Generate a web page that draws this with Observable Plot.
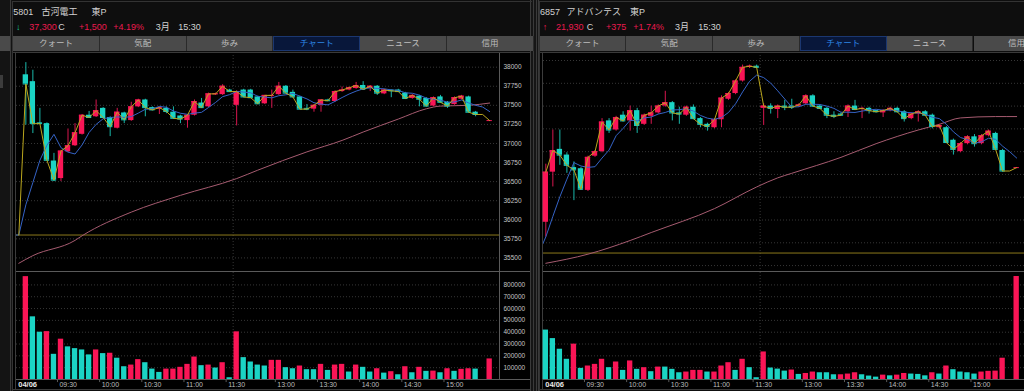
<!DOCTYPE html>
<html><head><meta charset="utf-8">
<script src="https://cdn.jsdelivr.net/npm/d3@7"></script>
<script src="https://cdn.jsdelivr.net/npm/@observablehq/plot@0.6"></script>
<style>
html,body{margin:0;padding:0;background:#0e0e0e;width:1024px;height:391px;overflow:hidden;position:relative;
  font-family:"Liberation Sans","Noto Sans CJK JP",sans-serif;}
.panel{position:absolute;top:0;width:517px;height:391px;}
.abs{position:absolute;}
.t{position:absolute;font-size:9px;line-height:10px;white-space:nowrap;color:#d2d2d2;}
.red{color:#ec1a4e;}
.tab{position:absolute;top:36px;height:15px;line-height:15px;font-size:8.5px;text-align:center;color:#bdbdbd;
  background:#4a4a4a;box-sizing:border-box;border-right:1px solid #2a2a2a;}
.tab.sel{background:#08173a;color:#2d86e4;border:1px solid #1b3770;line-height:13px;}
</style></head><body>
<script>
// ---------- shared categories ----------
const barIndex = d3.range(-1, 67);           // 5-minute bar slots (-1 = pre-open slot)
const xTickPos   = [-1.3, 4.5, 10.5, 16.5, 22.5, 28.5, 35.5, 41.5, 47.5, 53.5, 59.5];
const xTickLabel = ["04/06","09:30","10:00","10:30","11:00","11:30","13:00","13:30","14:00","14:30","15:00"];
const sessionBreak = [29.5];
const tabLabels = ["クォート","気配","歩み","チャート","ニュース","信用"];

// ---------- 5801 古河電工 ----------
const furuOpen  = [null,37900,37810,37270,37260,36770,36540,36890,36970,37120,37370,37350,37460,37340,37200,37400,37300,37480,37570,37470,37450,37460,37410,37360,37300,37370,37530,37480,37640,37640,37700,37500,37700,37700,37610,37520,37630,37640,37750,37670,37610,37460,37450,37500,37570,37550,37680,37700,37720,37760,37720,37750,37650,37700,37700,37660,37590,37620,37590,37490,37610,37540,37510,37580,37610,37410,null,37300];
const furuHigh  = [null,38060,37960,37460,37270,36870,36910,37190,37260,37380,37420,37570,37470,37350,37460,37410,37540,37580,37580,37480,37480,37480,37480,37370,37380,37570,37590,37660,37660,37770,37710,37690,37710,37710,37620,37630,37700,37800,37760,37700,37620,37510,37510,37570,37580,37690,37740,37740,37800,37810,37760,37760,37710,37700,37710,37670,37640,37630,37600,37610,37630,37550,37610,37630,37620,37420,null,37300];
const furuLow   = [null,37240,37130,37250,36770,36500,36500,36880,36960,37110,37330,37340,37330,37090,37190,37260,37290,37470,37350,37430,37380,37390,37320,37260,37200,37360,37460,37470,37630,37630,37670,37230,37600,37590,37510,37510,37460,37630,37660,37600,37450,37430,37410,37410,37550,37540,37670,37690,37710,37700,37680,37630,37640,37600,37670,37580,37580,37480,37480,37480,37530,37460,37500,37570,37400,37350,null,37300];
const furuClose = [35800,37780,37260,37260,36780,36520,36900,36970,37140,37370,37340,37430,37340,37220,37410,37310,37480,37570,37470,37440,37470,37420,37330,37320,37370,37550,37470,37650,37650,37750,37680,37680,37610,37600,37520,37630,37630,37750,37660,37610,37450,37450,37500,37570,37560,37680,37700,37730,37760,37710,37750,37660,37700,37690,37680,37590,37630,37580,37490,37600,37540,37490,37600,37620,37410,37380,37380,37300];
const furuVolume = [null,870000,530000,400000,405000,213000,341000,276000,261000,250000,208000,250000,219000,222000,180000,108000,122000,168000,142000,88000,60000,88000,88000,103000,128000,190000,117000,122000,97000,142000,15000,403000,185000,148000,122000,114000,162000,162000,100000,91000,114000,83000,83000,128000,77000,122000,128000,63000,122000,103000,63000,91000,54000,66000,40000,108000,57000,103000,69000,71000,57000,91000,69000,86000,91000,88000,0,174000];
const furuVolDir = [null,"u","d","d","u","d","u","d","d","d","d","u","d","u","d","d","u","u","d","d","d","u","u","u","u","u","d","u","d","u","d","u","d","d","d","d","u","u","d","d","u","d","d","u","d","u","u","d","u","d","d","u","d","u","d","u","d","u","d","u","d","u","d","u","u","d",null,"u"];
const furuPrevCloses = [35800,35800,35800,35800];
const furuPrevClose = 35800;
const furuSlowIdx = [-1,1,7,8,15,22,30,33,40,45,48,53,57,59,63,66];
const furuSlowVal = [35430,35530,35730,35790,36100,36320,36540,36650,36890,37040,37150,37320,37455,37490,37500,37530];
const furuPriceTicks = [35500,35750,36000,36250,36500,36750,37000,37250,37500,37750,38000];
const furuVolTicks = [100000,200000,300000,400000,500000,600000,700000,800000];

// ---------- 6857 アドバンテス ----------
const advOpen  = [21690,21910,22010,21985,21930,21925,21830,21980,22000,22135,22095,22160,22135,22180,22120,22155,22170,22200,22215,22170,22160,22195,22145,22120,22105,22140,22230,22255,22310,22370,22375,22190,22200,22185,22200,22200,22200,22210,22245,22200,22190,22160,22165,22175,22200,22185,22190,22180,22170,22180,22190,22175,22145,22165,22175,22160,22105,22105,22050,22000,22035,22065,22035,22070,22080,22005,null,21930];
const advHigh  = [21945,22095,22095,21995,21955,21930,21980,22005,22145,22145,22155,22175,22200,22190,22165,22200,22205,22265,22220,22195,22200,22205,22150,22125,22145,22245,22260,22315,22380,22380,22380,22210,22210,22205,22225,22230,22210,22250,22250,22205,22195,22175,22170,22205,22225,22195,22195,22180,22185,22195,22195,22180,22170,22180,22180,22165,22120,22110,22055,22040,22070,22075,22075,22095,22085,22010,null,21930];
const advLow   = [21625,21845,21940,21905,21785,21830,21825,21975,21995,22080,22090,22130,22090,22080,22115,22120,22165,22195,22135,22120,22155,22140,22105,22090,22100,22105,22225,22250,22305,22365,22365,22115,22165,22145,22180,22185,22195,22205,22195,22185,22145,22145,22155,22150,22180,22145,22165,22170,22150,22175,22170,22130,22140,22130,22155,22100,22100,22035,21985,21995,22030,22020,22030,22065,22005,21910,null,21930];
const advClose = [21910,22005,21985,21940,21920,21835,21975,22000,22130,22095,22150,22135,22180,22115,22160,22170,22200,22215,22170,22165,22195,22145,22120,22110,22140,22235,22255,22310,22370,22375,22370,22200,22190,22200,22195,22195,22205,22245,22200,22190,22160,22155,22160,22200,22185,22190,22180,22175,22180,22190,22175,22145,22165,22175,22160,22110,22115,22040,22010,22035,22065,22035,22070,22090,22010,21915,21915,21930];
const advVolume = [418000,346000,256000,171000,299000,94000,114000,128000,171000,100000,148000,77000,157000,86000,100000,66000,105000,105000,86000,57000,63000,77000,77000,63000,63000,114000,142000,77000,171000,100000,15000,233000,97000,88000,71000,80000,43000,51000,63000,57000,57000,40000,40000,46000,57000,40000,29000,20000,37000,31000,37000,51000,46000,43000,31000,57000,46000,114000,83000,63000,57000,46000,63000,69000,71000,180000,0,871000];
const advVolDir = ["d","d","d","d","u","d","u","u","u","d","u","d","u","d","u","d","u","d","d","d","u","u","u","d","u","u","u","d","u","d","d","u","d","d","d","u","d","u","u","d","d","d","u","u","u","d","d","d","u","d","u","u","d","d","d","u","d","u","d","d","d","d","u","u","u","u",null,"u"];
const advPrevCloses = [21555,21555,21555,21555];
const advPrevClose = 21555;
const advSlowIdx = [-1,5,11,14,23,29,32,34,41,46,52,55,58,63,66];
const advSlowVal = [21510,21550,21610,21645,21750,21845,21885,21905,21975,22035,22095,22120,22148,22154,22154];
const advPriceTicks = [21500,21600,21700,21800,21900,22000,22100,22200,22300,22400];
const advVolTicks = [100000,200000,300000,400000,500000,600000,700000,800000];

// ---------- styling ----------
const UP="#fa1556", DOWN="#1bd4c4", UPW="#d8164f", DOWNW="#19b7aa";
const YEL="#bba71e", BLUE="#3563c6", PINK="#a65b70", PREV="#8c781b", GRID="#363636", AXIS="#5a5a5a";
const xDomain = [-1.33, 67.4];

function box(parent, css){ const d=document.createElement("div"); d.className="abs"; Object.assign(d.style, css); parent.appendChild(d); return d; }
function txt(parent, s, left, top, cls){ const d=document.createElement("div"); d.className="t"+(cls?" "+cls:""); d.textContent=s; d.style.left=left+"px"; d.style.top=top+"px"; parent.appendChild(d); return d; }

function drawPanel(p){
  const el = document.createElement("div"); el.className="panel"; el.style.left=p.left+"px"; document.body.appendChild(el);
  box(el,{left:"-1px",top:"1px",width:"520px",height:"1px",background:"#333"});
  box(el,{left:"-1px",top:"1px",width:"1px",height:"390px",background:"#333"});
  p.header.forEach(h=>txt(el,h[0],h[1],h[2],h[3]));
  tabLabels.forEach((t,k)=>{ const d=document.createElement("div"); d.className="tab"+(k===3?" sel":""); d.textContent=t;
    d.style.left=(k*86.8)+"px"; d.style.width="86.8px"; el.appendChild(d); });
  box(el,{left:"0px",top:"53px",width:"517px",height:"336px",background:"#000"});
  box(el,{left:"0px",top:"52px",width:"517px",height:"1px",background:"#3a3a3a"});
  box(el,{left:"2px",top:"53px",width:"1px",height:"336px",background:"#3c3c3c"});
  box(el,{left:"486px",top:"53px",width:"1px",height:"326px",background:AXIS});
  box(el,{left:"3px",top:"271px",width:"514px",height:"1px",background:AXIS});
  box(el,{left:"3px",top:"379px",width:"514px",height:"1px",background:AXIS});
  box(el,{left:"0px",top:"389px",width:"517px",height:"1px",background:"#3a3a3a"});

  const rows = barIndex.map((i,k)=>({i, o:p.open[k], h:p.high[k], l:p.low[k], c:p.close[k]}));
  const candles = rows.filter(d=>d.o!=null);
  const maRows = p.pad.map((c,k)=>({i:-1-p.pad.length+k, c})).concat(rows);
  const slow = p.slowIdx.map((i,k)=>({i, v:p.slowVal[k]}));
  const vol = barIndex.map((i,k)=>({i, v:p.volume[k], d:p.volDir[k]})).filter(d=>d.v);
  const hw = 0.38;
  const col = d=>d.c>=d.o?UP:DOWN, wcol = d=>d.c>=d.o?UPW:DOWNW;

  const priceMarks = [
    Plot.ruleY(p.priceTicks,{stroke:GRID, strokeDasharray:"1,2"}),
    Plot.ruleX(sessionBreak,{stroke:GRID, strokeDasharray:"1,2"}),
    Plot.ruleY([p.prevClose],{stroke:PREV, strokeWidth:1}),
    Plot.line(slow,{x:"i", y:"v", stroke:PINK, strokeWidth:1, curve:"monotone-x", clip:true}),
    Plot.ruleX(candles,{x:"i", y1:"l", y2:"h", stroke:wcol, strokeWidth:1}),
    Plot.rect(candles,{x1:d=>d.i-hw, x2:d=>d.i+hw, y1:"o", y2:"c", fill:col}),
    Plot.ruleY(candles,{y:"c", x1:d=>d.i-hw, x2:d=>d.i+hw, stroke:col, strokeWidth:1}),
    Plot.line(maRows, Plot.windowY({k:5, anchor:"end"},{x:"i", y:"c", stroke:BLUE, strokeWidth:1, clip:true})),
    Plot.line(rows,{x:"i", y:"c", stroke:YEL, strokeWidth:1, clip:true})
  ];
  if (p.axisLabels) priceMarks.push(Plot.text(p.priceTicks,{x:xDomain[1], y:d=>d, text:d=>String(d), textAnchor:"start", dx:4, fill:"#c4c4c4"}));
  const price = Plot.plot({
    width:517, height:216, marginLeft:3, marginRight:31, marginTop:0, marginBottom:0,
    style:{background:"transparent", fontFamily:"Liberation Sans, sans-serif", fontSize:"6.5px", overflow:"visible"},
    x:{domain:xDomain, axis:null}, y:{domain:p.yDomain, axis:null}, color:{type:"identity"},
    marks: priceMarks
  });
  Object.assign(price.style,{position:"absolute", left:"0px", top:"55px"});
  el.appendChild(price);

  const volMarks = [
    Plot.ruleY(p.volTicks,{stroke:GRID, strokeDasharray:"1,2"}),
    Plot.ruleX(sessionBreak,{stroke:GRID, strokeDasharray:"1,2"}),
    Plot.rect(vol,{x1:d=>d.i-hw, x2:d=>d.i+hw, y1:0, y2:"v", fill:d=>d.d==="u"?UP:DOWN}),
    Plot.ruleX(xTickPos.slice(1),{y1:0, y2:-26000, stroke:AXIS}),
    Plot.text(xTickPos.slice(0,1),{x:d=>d, y:0, text:()=>xTickLabel[0], textAnchor:"start", lineAnchor:"top", dx:1.5, dy:2.5, fill:"#e8e8e8", fontWeight:"bold", fontSize:7.5}),
    Plot.text(xTickPos.slice(1),{x:d=>d, y:0, text:(d,k)=>xTickLabel[k+1], textAnchor:"start", lineAnchor:"top", dx:2, dy:2.5, fill:"#bcbcbc", fontSize:7})
  ];
  if (p.axisLabels) volMarks.push(Plot.text(p.volTicks,{x:xDomain[1], y:d=>d, text:d=>String(d), textAnchor:"start", dx:4, fill:"#c4c4c4"}));
  const volPlot = Plot.plot({
    width:517, height:118, marginLeft:3, marginRight:31, marginTop:0, marginBottom:11,
    style:{background:"transparent", fontFamily:"Liberation Sans, sans-serif", fontSize:"6.5px", overflow:"visible"},
    x:{domain:xDomain, axis:null}, y:{domain:[0,905000], axis:null}, color:{type:"identity"},
    marks: volMarks
  });
  Object.assign(volPlot.style,{position:"absolute", left:"0px", top:"272px"});
  el.appendChild(volPlot);
}

// far-left strip & panel separator
box(document.body,{left:"0px",top:"0px",width:"12px",height:"391px",background:"#141414"});
box(document.body,{left:"0px",top:"36px",width:"10px",height:"15px",background:"#4a4a4a"});
box(document.body,{left:"0px",top:"75px",width:"3px",height:"13px",background:"#3c3c3c"});
box(document.body,{left:"10px",top:"0px",width:"1px",height:"391px",background:"#3a3a3a"});
box(document.body,{left:"530px",top:"0px",width:"10px",height:"391px",background:"#151515"});
[530,533,535.5,538].forEach(x=>box(document.body,{left:x+"px",top:"0px",width:"1px",height:"391px",background:"#3a3a3a"}));

drawPanel({
  left:13, yDomain:[35322,38153], prevClose:furuPrevClose, axisLabels:true,
  open:furuOpen, high:furuHigh, low:furuLow, close:furuClose, pad:furuPrevCloses,
  volume:furuVolume, volDir:furuVolDir, slowIdx:furuSlowIdx, slowVal:furuSlowVal,
  priceTicks:furuPriceTicks, volTicks:furuVolTicks,
  header:[["5801",0.3,7],["古河電工",28.5,6.5],["東P",78.5,6.5],
          ["↓",3,21.5,"grn"],["37,300",16.3,22,"red"],["C",45.3,22],["+1,500",66,22,"red"],["+4.19%",100.3,22,"red"],
          ["3月",142.7,21.5],["15:30",165.3,22]]
});
drawPanel({
  left:539.5, yDomain:[21474,22422], prevClose:advPrevClose, axisLabels:false,
  open:advOpen, high:advHigh, low:advLow, close:advClose, pad:advPrevCloses,
  volume:advVolume, volDir:advVolDir, slowIdx:advSlowIdx, slowVal:advSlowVal,
  priceTicks:advPriceTicks, volTicks:advVolTicks,
  header:[["6857",0.5,7],["アドバンテス",27,6.5],["東P",90.5,6.5],
          ["↑",3.2,21.5,"red"],["21,930",16.5,22,"red"],["C",47.2,22],["+375",66.5,22,"red"],["+1.74%",93.8,22,"red"],
          ["3月",135.5,21.5],["15:30",158.8,22]]
});
document.querySelectorAll(".grn").forEach(d=>d.style.color="#19c39a");
</script>
</body></html>
